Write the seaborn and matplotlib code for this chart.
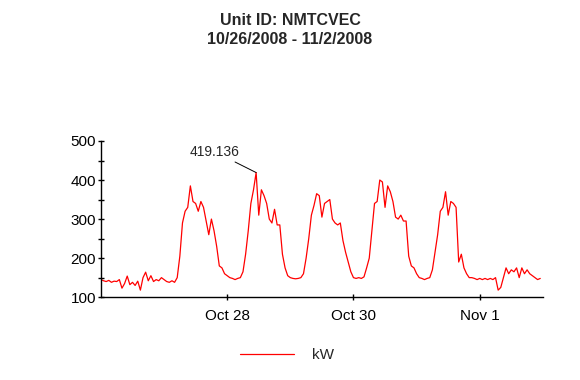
import numpy as np
import pandas as pd
import matplotlib
matplotlib.use("Agg")
import matplotlib.pyplot as plt
import matplotlib.dates as mdates
import seaborn as sns

# ==================== data ====================
start = "2008-10-26 00:00"
# hourly kW readings, 10/26 00:00 .. 11/1 23:00
kw_oct26 = [145, 142, 140, 143, 138, 141, 140, 145, 123, 135, 154, 132,
            138, 130, 141, 118, 150, 164, 142, 155, 140, 145, 142, 150]
kw_oct27 = [145, 140, 138, 142, 138, 150, 205, 290, 320, 330, 385, 345,
            340, 320, 345, 330, 295, 260, 300, 270, 230, 180, 175, 160]
kw_oct28 = [155, 150, 148, 145, 148, 150, 165, 210, 270, 340, 375, 419.136,
            310, 375, 360, 340, 300, 290, 325, 285, 285, 210, 175, 155]
kw_oct29 = [150, 148, 147, 148, 150, 160, 200, 250, 310, 335, 365, 360,
            305, 340, 345, 350, 300, 290, 285, 290, 245, 215, 190, 165]
kw_oct30 = [150, 148, 150, 148, 152, 175, 200, 270, 340, 345, 400, 395,
            330, 385, 370, 345, 305, 300, 310, 295, 295, 205, 180, 175]
kw_oct31 = [160, 150, 148, 145, 148, 150, 170, 215, 260, 320, 330, 370,
            310, 345, 340, 330, 190, 210, 175, 160, 150, 150, 148, 145]
kw_nov1 = [148, 145, 148, 145, 148, 145, 150, 118, 125, 150, 175, 160,
           170, 165, 175, 150, 175, 160, 170, 160, 155, 150, 145, 148]

kw = kw_oct26 + kw_oct27 + kw_oct28 + kw_oct29 + kw_oct30 + kw_oct31 + kw_nov1
df = pd.DataFrame({"time": pd.date_range(start, periods=len(kw), freq="h"),
                   "kW": kw})

# ==================== plot ====================
sns.set_style("white")
plt.rcParams["font.family"] = ["Liberation Sans", "DejaVu Sans"]

fig = plt.figure(figsize=(5.8, 3.8), dpi=100)
ax = fig.add_axes([0.174, 0.218, 0.762, 0.411])

sns.lineplot(data=df, x="time", y="kW", ax=ax, color="#ff0000",
             linewidth=0.9, label="kW", legend=False)

ax.set_xlim(pd.Timestamp("2008-10-26"), pd.Timestamp("2008-11-02"))
ax.set_ylim(100, 500)
ax.set_yticks([100, 200, 300, 400, 500])
ax.set_yticks([150, 250, 350, 450], minor=True)
ax.set_xticks(pd.to_datetime(["2008-10-28", "2008-10-30", "2008-11-01"]))
ax.xaxis.set_major_formatter(mdates.DateFormatter("%b %-d"))
ax.set_xlabel("")
ax.set_ylabel("")

for s in ["top", "right"]:
    ax.spines[s].set_visible(False)
for s in ["left", "bottom"]:
    ax.spines[s].set_color("black")
    ax.spines[s].set_linewidth(1.0)

ax.tick_params(axis="both", which="major", direction="inout", length=5,
               width=1, color="black", labelsize=11, labelcolor="black")
ax.tick_params(axis="y", which="minor", direction="inout", length=4,
               width=1, color="black")
ax.tick_params(axis="y", which="both", left=True, pad=1)
ax.tick_params(axis="x", which="major", bottom=True, pad=6)

# peak label
pk = df.loc[df["kW"].idxmax()]
ax.annotate(f"{pk['kW']:.3f}", xy=(pk["time"], pk["kW"]),
            xytext=(-12, 15), textcoords="offset points",
            ha="right", va="center", fontsize=10,
            arrowprops=dict(arrowstyle="-", color="black", lw=0.7,
                            shrinkA=0, shrinkB=0))

fig.text(0.5, 0.947, "Unit ID: NMTCVEC", ha="center", va="center",
         fontsize=11.5, fontweight="bold")
fig.text(0.5, 0.897, "10/26/2008 - 11/2/2008", ha="center", va="center",
         fontsize=11.5, fontweight="bold")

handles, labels = ax.get_lines()[:1], ["kW"]
fig.legend(handles, labels, loc="center", bbox_to_anchor=(0.495, 0.066),
           frameon=False, fontsize=11, handlelength=3.5, handletextpad=1.2)

fig.savefig("out.png", dpi=100)
